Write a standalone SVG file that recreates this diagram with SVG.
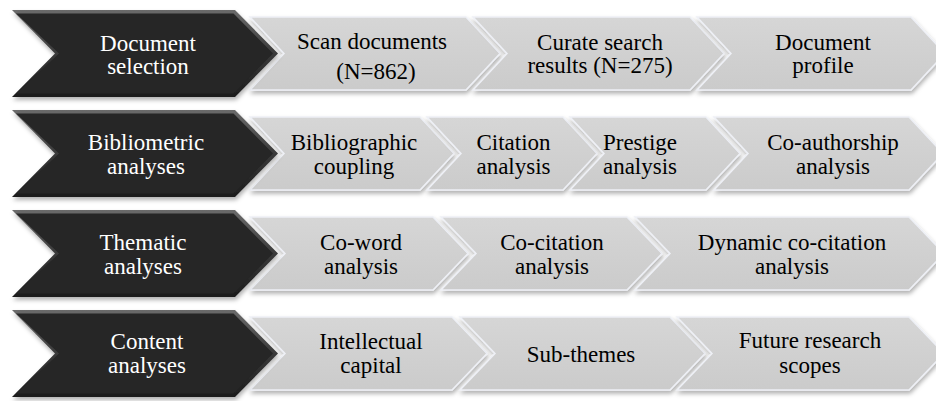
<svg xmlns="http://www.w3.org/2000/svg" width="936" height="401" viewBox="0 0 936 401">
<defs>
  <filter id="sh" x="-10%" y="-20%" width="120%" height="150%">
    <feDropShadow dx="1" dy="3" stdDeviation="2" flood-color="#000" flood-opacity="0.3"/>
  </filter>
  <linearGradient id="dk" x1="0" y1="0" x2="0" y2="1">
    <stop offset="0" stop-color="#6a6a6a"/>
    <stop offset="0.5" stop-color="#3a3a3a"/>
    <stop offset="1" stop-color="#1c1c1c"/>
  </linearGradient>
  <linearGradient id="gr" x1="0" y1="0" x2="0" y2="1">
    <stop offset="0" stop-color="#d6d6d6"/>
    <stop offset="1" stop-color="#cbcbcb"/>
  </linearGradient>
  <polygon id="dark" points="12,0 235,0 278,43.5 235,87 12,87 55,43.5"/>
  <polygon id="darkin" points="16,3.5 233.5,3.5 273,43.5 233.5,83.5 16,83.5 59,43.5"/>
</defs>
<style>
  .g { fill: url(#gr); stroke: #eef0f6; stroke-width: 1.5; filter: url(#sh); }
  .d { fill: url(#dk); filter: url(#sh); }
  .di { fill: #262626; }
  text { font-family: 'Liberation Serif', 'DejaVu Serif', serif; font-size: 23px; text-anchor: middle; fill: #000; }
  .w { fill: #fff; }
</style>
<rect width="936" height="401" fill="#fff"/>

<!-- Row 1 -->
<g id="scan-documents">
  <polygon class="g" points="250,17 466,17 500,53.5 466,90 250,90 284,53.5"/>
  <text x="372" y="49">Scan documents</text>
  <text x="376" y="79">(N=862)</text>
</g>
<g id="curate-search">
  <polygon class="g" points="473,17 690,17 724,53.5 690,90 473,90 507,53.5"/>
  <text x="600" y="50">Curate search</text>
  <text x="600" y="73">results (N=275)</text>
</g>
<g id="document-profile">
  <polygon class="g" points="697,17 911,17 945,53.5 911,90 697,90 731,53.5"/>
  <text x="823" y="50">Document</text>
  <text x="823" y="73">profile</text>
</g>
<g id="document-selection" transform="translate(0,10)">
  <use href="#dark" class="d"/>
  <use href="#darkin" class="di"/>
  <text class="w" x="148" y="40.5">Document</text>
  <text class="w" x="148" y="64">selection</text>
</g>

<!-- Row 2 -->
<g id="bibliographic-coupling">
  <polygon class="g" points="250,117 420,117 454,153.5 420,190 250,190 284,153.5"/>
  <text x="354" y="150">Bibliographic</text>
  <text x="354" y="173.5">coupling</text>
</g>
<g id="citation-analysis">
  <polygon class="g" points="427,117 563,117 597,153.5 563,190 427,190 461,153.5"/>
  <text x="513.5" y="150">Citation</text>
  <text x="513.5" y="173.5">analysis</text>
</g>
<g id="prestige-analysis">
  <polygon class="g" points="570,117 706,117 740,153.5 706,190 570,190 604,153.5"/>
  <text x="640" y="150">Prestige</text>
  <text x="640" y="173.5">analysis</text>
</g>
<g id="co-authorship-analysis">
  <polygon class="g" points="714,117 909,117 943,153.5 909,190 714,190 748,153.5"/>
  <text x="833" y="150">Co-authorship</text>
  <text x="833" y="173.5">analysis</text>
</g>
<g id="bibliometric-analyses" transform="translate(0,110)">
  <use href="#dark" class="d"/>
  <use href="#darkin" class="di"/>
  <text class="w" x="146" y="40">Bibliometric</text>
  <text class="w" x="146" y="63.5">analyses</text>
</g>

<!-- Row 3 -->
<g id="co-word-analysis">
  <polygon class="g" points="250,217 433,217 468,253.5 433,290 250,290 285,253.5"/>
  <text x="361" y="250">Co-word</text>
  <text x="361" y="274">analysis</text>
</g>
<g id="co-citation-analysis">
  <polygon class="g" points="441,217 627,217 662,253.5 627,290 441,290 476,253.5"/>
  <text x="552" y="250">Co-citation</text>
  <text x="552" y="274">analysis</text>
</g>
<g id="dynamic-co-citation-analysis">
  <polygon class="g" points="635,217 909,217 944,253.5 909,290 635,290 670,253.5"/>
  <text x="792" y="250">Dynamic co-citation</text>
  <text x="792" y="274">analysis</text>
</g>
<g id="thematic-analyses" transform="translate(0,210)">
  <use href="#dark" class="d"/>
  <use href="#darkin" class="di"/>
  <text class="w" x="143" y="40">Thematic</text>
  <text class="w" x="143" y="64">analyses</text>
</g>

<!-- Row 4 -->
<g id="intellectual-capital">
  <polygon class="g" points="250,317 452,317 487,353.5 452,390 250,390 285,353.5"/>
  <text x="371" y="349">Intellectual</text>
  <text x="371" y="373">capital</text>
</g>
<g id="sub-themes">
  <polygon class="g" points="460,317 670,317 705,353.5 670,390 460,390 495,353.5"/>
  <text x="581" y="362">Sub-themes</text>
</g>
<g id="future-research-scopes">
  <polygon class="g" points="677,317 909,317 944,353.5 909,390 677,390 712,353.5"/>
  <text x="810" y="348">Future research</text>
  <text x="810" y="373">scopes</text>
</g>
<g id="content-analyses" transform="translate(0,310)">
  <use href="#dark" class="d"/>
  <use href="#darkin" class="di"/>
  <text class="w" x="147" y="39">Content</text>
  <text class="w" x="147" y="63">analyses</text>
</g>
</svg>
